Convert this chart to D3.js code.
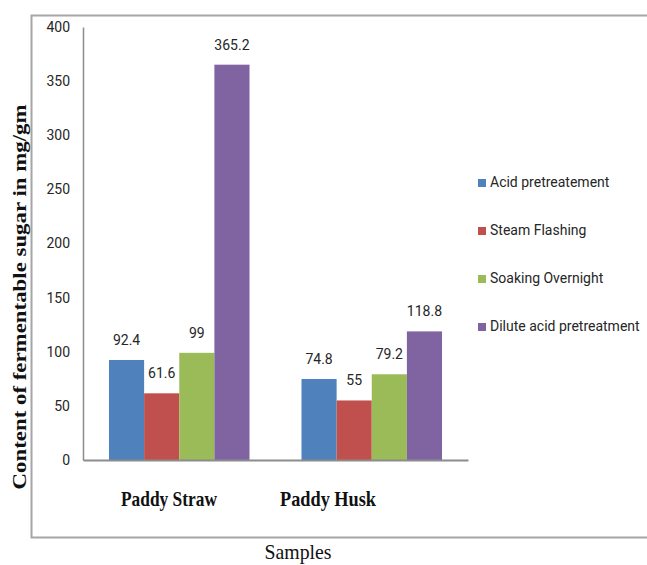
<html>
  <head>
    <title>Fermentable sugar by pretreatment</title>
    <style>
      html, body {
        margin: 0;
        padding: 0;
        background: #fff;
      }
      /* narrowish sans for the Office-style labels */
      .lbl {
        font-family: Roboto, "Liberation Sans", sans-serif;
        font-size: 14px;
        fill: #262626;
      }
      .serif {
        font-family: "Liberation Serif", "Times New Roman", serif;
        fill: #111;
      }
    </style>
  </head>
  <body>
<svg id="viz"></svg>

<script src="https://cdn.jsdelivr.net/npm/d3@7"></script>
<script>
// data
var samples = ["Paddy Straw", "Paddy Husk"];
var treatments = ["Acid pretreatement", "Steam Flashing", "Soaking Overnight", "Dilute acid pretreatment"];
var acidValues = [92.4, 74.8];
var steamValues = [61.6, 55];
var soakValues = [99, 79.2];
var diluteValues = [365.2, 118.8];
var yTicks = [0, 50, 100, 150, 200, 250, 300, 350, 400];
var colours = ["#4F81BD", "#C0504D", "#9BBB59", "#8064A2"];

var seriesValues = [acidValues, steamValues, soakValues, diluteValues];

var width = 647;
var height = 565;

var svg = d3.select("#viz").attr("width", width).attr("height", height);

// outer frame (right side runs off the picture)
svg.append("path")
    .attr("d", "M" + width + ",15.5H31.5V537.5H" + width)
    .attr("fill", "none")
    .attr("stroke", "#a6a6a6")
    .attr("stroke-width", 2);

var x0 = d3.scaleBand()
    .domain(samples)
    .range([83, 468])
    .paddingInner(0.27)
    .paddingOuter(0.135);

var x1 = d3.scaleBand()
    .domain(treatments)
    .range([0, x0.bandwidth()]);

var y = d3.scaleLinear()
    .domain([0, 400])
    .range([460, 27]);

var colour = d3.scaleOrdinal().domain(treatments).range(colours);

// rows for the bars
var rows = [];
samples.forEach(function(s, i) {
    treatments.forEach(function(t, j) {
        rows.push({sample: s, treatment: t, value: seriesValues[j][i]});
    });
});

// y axis
var yAxis = d3.axisLeft(y).tickValues(yTicks).tickSize(0).tickPadding(13);
var gy = svg.append("g").attr("transform", "translate(83,0)").call(yAxis);
gy.select(".domain").attr("stroke", "#8c8c8c").attr("stroke-width", 1.5);
gy.selectAll("text").attr("class", "lbl").attr("font-size", null).attr("font-family", null);

// bars
svg.append("g").selectAll("rect")
    .data(rows)
    .enter()
    .append("rect")
    .attr("x", function(d) { return x0(d.sample) + x1(d.treatment); })
    .attr("y", function(d) { return y(d.value); })
    .attr("width", x1.bandwidth())
    .attr("height", function(d) { return y(0) - y(d.value); })
    .attr("fill", function(d) { return colour(d.treatment); });

// value labels
svg.append("g").selectAll("text")
    .data(rows)
    .enter()
    .append("text")
    .attr("class", "lbl")
    .attr("text-anchor", "middle")
    .attr("x", function(d) { return x0(d.sample) + x1(d.treatment) + x1.bandwidth() / 2; })
    .attr("y", function(d) { return y(d.value) - 15; })
    .text(function(d) { return d.value; });

// x axis line
var xAxis = d3.axisBottom(x0).tickSize(0).tickFormat("");
var gx = svg.append("g").attr("transform", "translate(0,460)").call(xAxis);
gx.select(".domain").attr("stroke", "#8c8c8c").attr("stroke-width", 2);

// category names sit a bit left of the bar groups in the original
var labelX = d3.scalePoint().domain(samples).range([169, 328]);
svg.append("g").selectAll("text")
    .data(samples)
    .enter()
    .append("text")
    .attr("class", "serif")
    .attr("font-weight", "bold")
    .attr("font-size", 21)
    .attr("text-anchor", "middle")
    .attr("x", function(d) { return labelX(d); })
    .attr("y", 506)
    .attr("textLength", 96)
    .attr("lengthAdjust", "spacingAndGlyphs")
    .text(function(d) { return d; });

// axis titles
svg.append("text")
    .attr("class", "serif")
    .attr("font-size", 22)
    .attr("text-anchor", "middle")
    .attr("x", 298)
    .attr("y", 559)
    .attr("textLength", 67)
    .attr("lengthAdjust", "spacingAndGlyphs")
    .text("Samples");

svg.append("text")
    .attr("class", "serif")
    .attr("font-weight", "bold")
    .attr("font-size", 18)
    .attr("text-anchor", "middle")
    .attr("transform", "translate(26,297) rotate(-90)")
    .attr("textLength", 385)
    .attr("lengthAdjust", "spacingAndGlyphs")
    .text("Content of fermentable sugar in mg/gm");

// legend
var legend = svg.append("g").selectAll("g")
    .data(treatments)
    .enter()
    .append("g")
    .attr("transform", function(d, i) { return "translate(478," + (179 + i * 48) + ")"; });

legend.append("rect")
    .attr("width", 8)
    .attr("height", 8)
    .attr("fill", function(d) { return colour(d); });

legend.append("text")
    .attr("class", "lbl")
    .attr("x", 12)
    .attr("y", 8)
    .text(function(d) { return d; });
</script>
  </body>
</html>
